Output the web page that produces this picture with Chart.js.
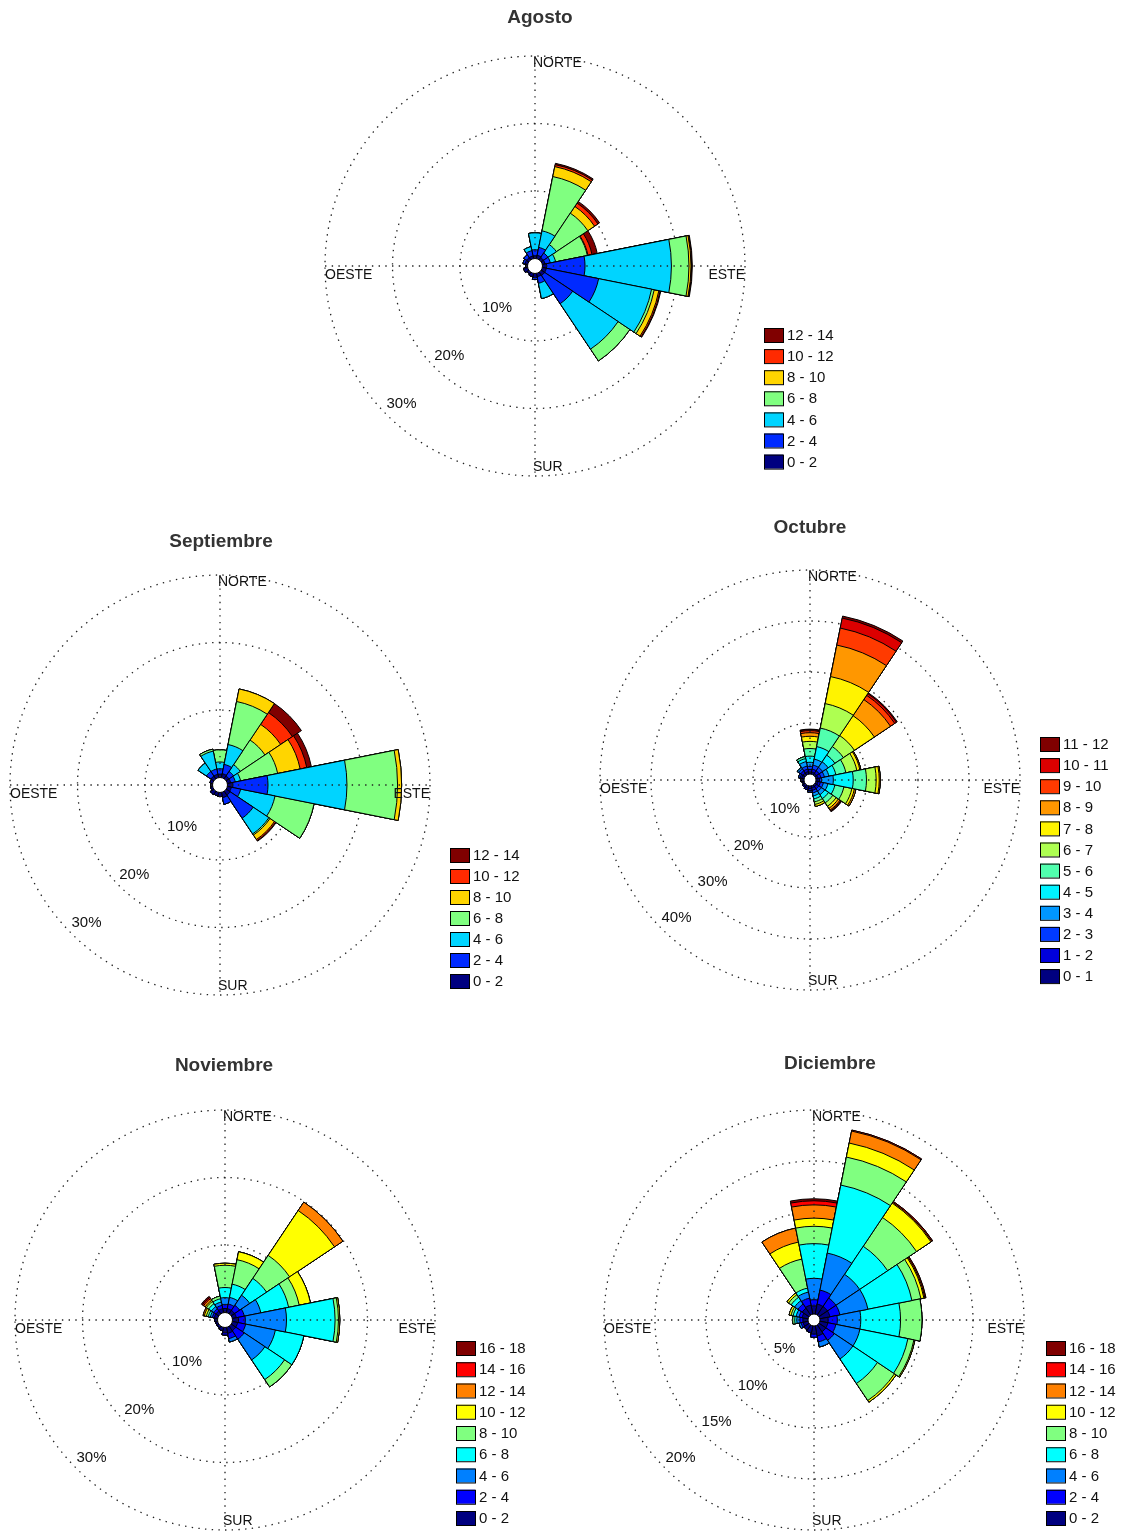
<!DOCTYPE html>
<html>
<head>
<meta charset="utf-8">
<script src="https://cdn.jsdelivr.net/npm/chart.js@4.4.1/dist/chart.umd.min.js"></script>
<style>
    html, body { margin: 0; padding: 0; background: #fff; }
    #page { position: relative; width: 1125px; height: 1536px; overflow: hidden; }
    #page canvas { position: absolute; }
</style>
</head>
<body>
<div id="page">
    <canvas id="agosto"></canvas>
    <canvas id="septiembre"></canvas>
    <canvas id="octubre"></canvas>
    <canvas id="noviembre"></canvas>
    <canvas id="diciembre"></canvas>
</div>
<script>
const directions = ["N", "NNE", "NE", "ENE", "E", "ESE", "SE", "SSE", "S", "SSW", "SW", "WSW", "W", "WNW", "NW", "NNW"];
const cardinalLabels = ["NORTE", "ESTE", "SUR", "OESTE"];

// Agosto: % por dirección en cada rango de velocidad
const agostoBins = ["0 - 2", "2 - 4", "4 - 6", "6 - 8", "8 - 10", "10 - 12", "12 - 14"];
const agostoTicks = [10, 20, 30];
const ago_0_2 = [0.4, 0.5, 0.4, 0.4, 0.6, 0.6, 0.6, 0.5, 0.6, 0.5, 0.3, 0.6, 0.3, 0.4, 0.4, 0.4];
const ago_2_4 = [0.9, 1.2, 0.8, 0.8, 5.7, 7.9, 5.0, 1.0, 0.3, 0, 0, 0, 0, 0.3, 0.5, 0.8];
const ago_4_6 = [2.5, 2.5, 1.5, 0.8, 12.8, 8.0, 8.1, 2.3, 0, 0, 0, 0, 0, 0, 0, 0.6];
const ago_6_8 = [0, 8.2, 5.6, 4.8, 2.6, 0.4, 2.1, 0, 0, 0, 0, 0, 0, 0, 0, 0];
const ago_8_10 = [0, 1.5, 1.2, 0.1, 0.3, 0.7, 0, 0, 0, 0, 0, 0, 0, 0, 0, 0];
const ago_10_12 = [0, 0.3, 0.6, 0.6, 0.1, 0.2, 0, 0, 0, 0, 0, 0, 0, 0, 0, 0];
const ago_12_14 = [0, 0.2, 0.3, 0.8, 0.1, 0.1, 0, 0, 0, 0, 0, 0, 0, 0, 0, 0];

// Septiembre
const septiembreBins = ["0 - 2", "2 - 4", "4 - 6", "6 - 8", "8 - 10", "10 - 12", "12 - 14"];
const septiembreTicks = [10, 20, 30];
const sep_0_2 = [0.5, 0.6, 0.5, 0.5, 0.8, 0.6, 0.7, 0.8, 0.6, 0.5, 0.6, 0.3, 0.3, 0.4, 0.5, 0.5];
const sep_2_4 = [0.8, 1.4, 0.8, 0.7, 5.2, 1.4, 4.1, 1.0, 0, 0, 0, 0, 0, 0, 0.8, 0.8];
const sep_4_6 = [1.0, 3.0, 1.2, 0.8, 11.7, 5.2, 2.8, 0, 0, 0, 0, 0, 0, 0, 1.5, 2.7];
const sep_6_8 = [1.8, 6.5, 4.4, 5.6, 7.5, 5.9, 0.2, 0, 0, 0, 0, 0, 0, 0, 0, 0.3];
const sep_8_10 = [0, 1.9, 2.8, 3.4, 0.6, 0, 0.8, 0, 0, 0, 0, 0, 0, 0, 0, 0];
const sep_10_12 = [0, 0, 2.1, 1.0, 0, 0, 0.2, 0, 0, 0, 0, 0, 0, 0, 0, 0];
const sep_12_14 = [0, 0, 1.6, 0.7, 0, 0, 0.1, 0, 0, 0, 0, 0, 0, 0, 0, 0];

// Octubre
const octubreBins = ["0 - 1", "1 - 2", "2 - 3", "3 - 4", "4 - 5", "5 - 6", "6 - 7", "7 - 8", "8 - 9", "9 - 10", "10 - 11", "11 - 12"];
const octubreTicks = [10, 20, 30, 40];
const oct_0_1 = [0.4, 0.4, 0.4, 0.4, 0.4, 0.4, 0.4, 0.4, 0.5, 0.5, 0.4, 0.3, 0.4, 0.5, 0.5, 0.5];
const oct_1_2 = [0.5, 0.6, 0.6, 0.6, 0.3, 0.5, 0.5, 0.5, 0.4, 0.3, 0.2, 0, 0.2, 0.3, 0.5, 0.5];
const oct_2_3 = [0.6, 0.8, 0.8, 0.7, 0.4, 0.6, 0.6, 0.5, 0.3, 0, 0, 0, 0, 0.3, 0.5, 0.6];
const oct_3_4 = [0.8, 1.2, 1.3, 0.9, 2.3, 0.9, 0.8, 0.6, 0, 0, 0, 0, 0, 0, 0.3, 0.9];
const oct_4_5 = [1.2, 2.5, 1.6, 1.4, 3.9, 1.4, 0.9, 0.6, 0, 0, 0, 0, 0, 0, 0, 0.6];
const oct_5_6 = [1.5, 3.7, 2.0, 2.0, 2.6, 1.8, 1.0, 0.6, 0, 0, 0, 0, 0, 0, 0, 0.4];
const oct_6_7 = [1.4, 4.9, 2.6, 2.2, 1.9, 1.6, 0.8, 0.5, 0, 0, 0, 0, 0, 0, 0, 0];
const oct_7_8 = [1.0, 5.4, 4.7, 0.6, 0.6, 0.5, 0.5, 0.4, 0, 0, 0, 0, 0, 0, 0, 0];
const oct_8_9 = [0.7, 6.3, 3.8, 0.2, 0.2, 0.3, 0.4, 0, 0, 0, 0, 0, 0, 0, 0, 0];
const oct_9_10 = [0.4, 3.4, 1.0, 0, 0, 0, 0.2, 0, 0, 0, 0, 0, 0, 0, 0, 0];
const oct_10_11 = [0.2, 2.0, 0.4, 0, 0, 0, 0.1, 0, 0, 0, 0, 0, 0, 0, 0, 0];
const oct_11_12 = [0.1, 0.4, 0.2, 0, 0, 0, 0.1, 0, 0, 0, 0, 0, 0, 0, 0, 0];

// Noviembre
const noviembreBins = ["0 - 2", "2 - 4", "4 - 6", "6 - 8", "8 - 10", "10 - 12", "12 - 14", "14 - 16", "16 - 18"];
const noviembreTicks = [10, 20, 30];
const nov_0_2 = [0.6, 0.6, 0.6, 0.6, 0.9, 0.8, 0.8, 0.9, 0.8, 0.5, 0.3, 0.3, 0.4, 0.5, 0.5, 0.6];
const nov_2_4 = [0.6, 0.7, 0.9, 1.2, 1.0, 1.2, 1.5, 0.8, 0.3, 0, 0, 0, 0, 0.3, 0.4, 0.5];
const nov_4_6 = [1.0, 1.0, 1.8, 2.5, 6.1, 4.5, 3.7, 0.5, 0, 0, 0, 0, 0, 0.3, 0.4, 0.5];
const nov_6_8 = [1.5, 2.0, 3.0, 4.2, 7.2, 4.3, 3.5, 0, 0, 0, 0, 0, 0, 0.3, 0.5, 0.5];
const nov_8_10 = [3.3, 3.7, 4.1, 1.6, 0.5, 0, 1.3, 0, 0, 0, 0, 0, 0, 0.3, 0.4, 0.4];
const nov_10_12 = [0.3, 1.2, 8.0, 1.7, 0.2, 0, 0, 0, 0, 0, 0, 0, 0, 0.3, 0.2, 0];
const nov_12_14 = [0, 0, 1.5, 0, 0, 0, 0, 0, 0, 0, 0, 0, 0, 0.2, 0.3, 0];
const nov_14_16 = [0, 0, 0, 0, 0, 0, 0, 0, 0, 0, 0, 0, 0, 0, 0.2, 0];
const nov_16_18 = [0, 0, 0, 0, 0, 0, 0, 0, 0, 0, 0, 0, 0, 0, 0.2, 0];

// Diciembre
const diciembreBins = ["0 - 2", "2 - 4", "4 - 6", "6 - 8", "8 - 10", "10 - 12", "12 - 14", "14 - 16", "16 - 18"];
const diciembreTicks = [5, 10, 15, 20];
const dic_0_2 = [0.8, 1.0, 1.0, 1.0, 0.8, 0.8, 0.8, 1.0, 0.8, 0.7, 0.6, 0.5, 0.5, 0.6, 0.8, 0.9];
const dic_2_4 = [0.6, 1.4, 1.0, 1.0, 0.9, 0.8, 1.0, 0.6, 0.3, 0, 0, 0.2, 0.3, 0.3, 0.5, 0.7];
const dic_4_6 = [2.1, 3.7, 2.8, 2.8, 2.3, 2.4, 2.2, 0.5, 0, 0, 0, 0.2, 0.3, 0.3, 0.4, 0.6];
const dic_6_8 = [3.4, 6.8, 3.3, 4.4, 3.9, 4.8, 2.9, 0, 0, 0, 0, 0, 0.2, 0.3, 0.4, 0.4];
const dic_8_10 = [1.7, 2.8, 3.4, 0.9, 2.1, 0.6, 2.0, 0, 0, 0, 0, 0, 0.2, 0.2, 0.3, 2.9];
const dic_10_12 = [0.8, 1.4, 1.7, 0.3, 0, 0.1, 0.2, 0, 0, 0, 0, 0, 0, 0.2, 0.2, 1.7];
const dic_12_14 = [1.3, 1.2, 0.1, 0.1, 0, 0, 0, 0, 0, 0, 0, 0, 0, 0, 0, 1.4];
const dic_14_16 = [0.4, 0.1, 0.1, 0.1, 0, 0, 0, 0, 0, 0, 0, 0, 0, 0, 0, 0];
const dic_16_18 = [0.2, 0, 0, 0, 0, 0, 0, 0, 0, 0, 0, 0, 0, 0, 0, 0];

const FONT = "'Liberation Sans', Arial, sans-serif";

function jet(k, n) {
    const t = n > 1 ? k / (n - 1) : 0;
    const f = (x) => Math.round(255 * Math.max(0, Math.min(1, 1.5 - Math.abs(4 * t - x))));
    return `rgb(${f(3)}, ${f(2)}, ${f(1)})`;
}

const roseDecor = {
    id: "roseDecor",
    afterDatasetsDraw(chart) {
        const ctx = chart.ctx;
        const s = chart.scales.r;
        const R = s.drawingArea;
        ctx.save();
        ctx.strokeStyle = "#222";
        ctx.lineWidth = 1.3;
        ctx.setLineDash([1.4, 5.3]);
        ctx.beginPath();
        ctx.moveTo(s.xCenter, s.yCenter - R);
        ctx.lineTo(s.xCenter, s.yCenter + R);
        ctx.moveTo(s.xCenter - R, s.yCenter);
        ctx.lineTo(s.xCenter + R, s.yCenter);
        ctx.stroke();
        ctx.restore();
    },
    afterDraw(chart, args, opts) {
        const ctx = chart.ctx;
        const s = chart.scales.r;
        const cx = s.xCenter;
        const cy = s.yCenter;
        const R = s.drawingArea;

        // calma
        ctx.save();
        ctx.beginPath();
        ctx.arc(cx, cy, s.getDistanceFromCenterForValue(0), 0, 2 * Math.PI);
        ctx.fillStyle = "#fff";
        ctx.fill();
        ctx.strokeStyle = "#000";
        ctx.lineWidth = 1;
        ctx.stroke();

        ctx.fillStyle = "#111";
        ctx.font = `14px ${FONT}`;
        ctx.textBaseline = "middle";
        ctx.textAlign = "left";
        ctx.fillText(cardinalLabels[0], cx - 2, cy - R + 7);
        ctx.fillText(cardinalLabels[2], cx - 2, cy + R - 9);
        ctx.fillText(cardinalLabels[3], cx - R, cy + 9);
        ctx.textAlign = "right";
        ctx.fillText(cardinalLabels[1], cx + R, cy + 9);

        ctx.textAlign = "left";
        ctx.font = `15px ${FONT}`;
        opts.ticks.forEach((v) => {
            const r = s.getDistanceFromCenterForValue(v);
            ctx.fillText(v + "%", cx - r * Math.SQRT1_2, cy + r * Math.SQRT1_2 - 11);
        });

        ctx.textAlign = "center";
        ctx.font = `bold 19px ${FONT}`;
        ctx.fillStyle = "#333";
        ctx.fillText(opts.title, opts.titleX, opts.titleY);

        const ds = chart.data.datasets;
        ctx.font = `15px ${FONT}`;
        ctx.textAlign = "left";
        for (let k = ds.length - 1; k >= 0; k--) {
            const y = opts.legendY + (ds.length - 1 - k) * opts.legendStep;
            ctx.fillStyle = ds[k].backgroundColor;
            ctx.fillRect(opts.legendX, y - 7, 19, 14);
            ctx.strokeStyle = "#000";
            ctx.strokeRect(opts.legendX + 0.5, y - 6.5, 19, 14);
            ctx.fillStyle = "#111";
            ctx.fillText(ds[k].label, opts.legendX + 23, y + 1);
        }
        ctx.restore();
    },
};

function genRose(id, title, bins, series, ticks, box) {
    const canvas = document.getElementById(id);
    canvas.width = box.w;
    canvas.height = box.h;
    canvas.style.left = box.left + "px";
    canvas.style.top = box.top + "px";

    const n = series.length;
    let run = directions.map(() => 0);
    const datasets = series.map((s, k) => {
        run = run.map((v, i) => v + s[i]);
        return {
            label: bins[k],
            data: run,
            backgroundColor: jet(k, n),
            borderColor: "#000",
            borderWidth: 1,
        };
    });

    const R = box.radius;
    const max = ticks[ticks.length - 1];
    const min = -box.calm * max / (R - box.calm);

    return new Chart(canvas, {
        type: "polarArea",
        data: { labels: directions, datasets },
        options: {
            responsive: false,
            animation: false,
            events: [],
            layout: {
                padding: {
                    left: box.cx - R - box.left,
                    top: box.cy - R - box.top,
                    right: box.left + box.w - box.cx - R,
                    bottom: box.top + box.h - box.cy - R,
                },
            },
            plugins: {
                legend: { display: false },
                tooltip: { enabled: false },
                roseDecor: {
                    ticks,
                    title,
                    titleX: box.titleX - box.left,
                    titleY: box.titleY - box.top,
                    legendX: box.legendX - box.left,
                    legendY: box.legendY - box.top,
                    legendStep: box.legendStep,
                },
            },
            scales: {
                r: {
                    min,
                    max,
                    startAngle: -11.25,
                    z: 1,
                    afterBuildTicks: (scale) => {
                        scale.ticks = [min, ...ticks].map((v) => ({ value: v }));
                    },
                    ticks: { display: false },
                    pointLabels: { display: false },
                    angleLines: { display: false },
                    grid: {
                        circular: true,
                        lineWidth: 1.3,
                        color: (c) => (c.index === 0 ? "rgba(0,0,0,0)" : "#222"),
                    },
                    border: { dash: [1.4, 5.3] },
                },
            },
        },
        plugins: [roseDecor],
    });
}

genRose("agosto", "Agosto", agostoBins,
    [ago_0_2, ago_2_4, ago_4_6, ago_6_8, ago_8_10, ago_10_12, ago_12_14], agostoTicks,
    { left: 300, top: 0, w: 560, h: 500, cx: 535, cy: 266, radius: 210, calm: 7.5,
      titleX: 540, titleY: 18, legendX: 764, legendY: 335, legendStep: 21.1 });

genRose("septiembre", "Septiembre", septiembreBins,
    [sep_0_2, sep_2_4, sep_4_6, sep_6_8, sep_8_10, sep_10_12, sep_12_14], septiembreTicks,
    { left: 0, top: 520, w: 540, h: 490, cx: 220, cy: 785, radius: 210, calm: 7.5,
      titleX: 221, titleY: 542, legendX: 450, legendY: 855, legendStep: 21 });

genRose("octubre", "Octubre", octubreBins,
    [oct_0_1, oct_1_2, oct_2_3, oct_3_4, oct_4_5, oct_5_6, oct_6_7, oct_7_8, oct_8_9, oct_9_10, oct_10_11, oct_11_12], octubreTicks,
    { left: 560, top: 505, w: 565, h: 495, cx: 810, cy: 780, radius: 210, calm: 6,
      titleX: 810, titleY: 528, legendX: 1040, legendY: 744, legendStep: 21.1 });

genRose("noviembre", "Noviembre", noviembreBins,
    [nov_0_2, nov_2_4, nov_4_6, nov_6_8, nov_8_10, nov_10_12, nov_12_14, nov_14_16, nov_16_18], noviembreTicks,
    { left: 0, top: 1045, w: 545, h: 491, cx: 225, cy: 1320, radius: 210, calm: 7.5,
      titleX: 224, titleY: 1066, legendX: 456, legendY: 1348, legendStep: 21.25 });

genRose("diciembre", "Diciembre", diciembreBins,
    [dic_0_2, dic_2_4, dic_4_6, dic_6_8, dic_8_10, dic_10_12, dic_12_14, dic_14_16, dic_16_18], diciembreTicks,
    { left: 560, top: 1045, w: 565, h: 491, cx: 814, cy: 1320, radius: 210, calm: 6,
      titleX: 830, titleY: 1064, legendX: 1046, legendY: 1348, legendStep: 21.25 });
</script>
</body>
</html>
